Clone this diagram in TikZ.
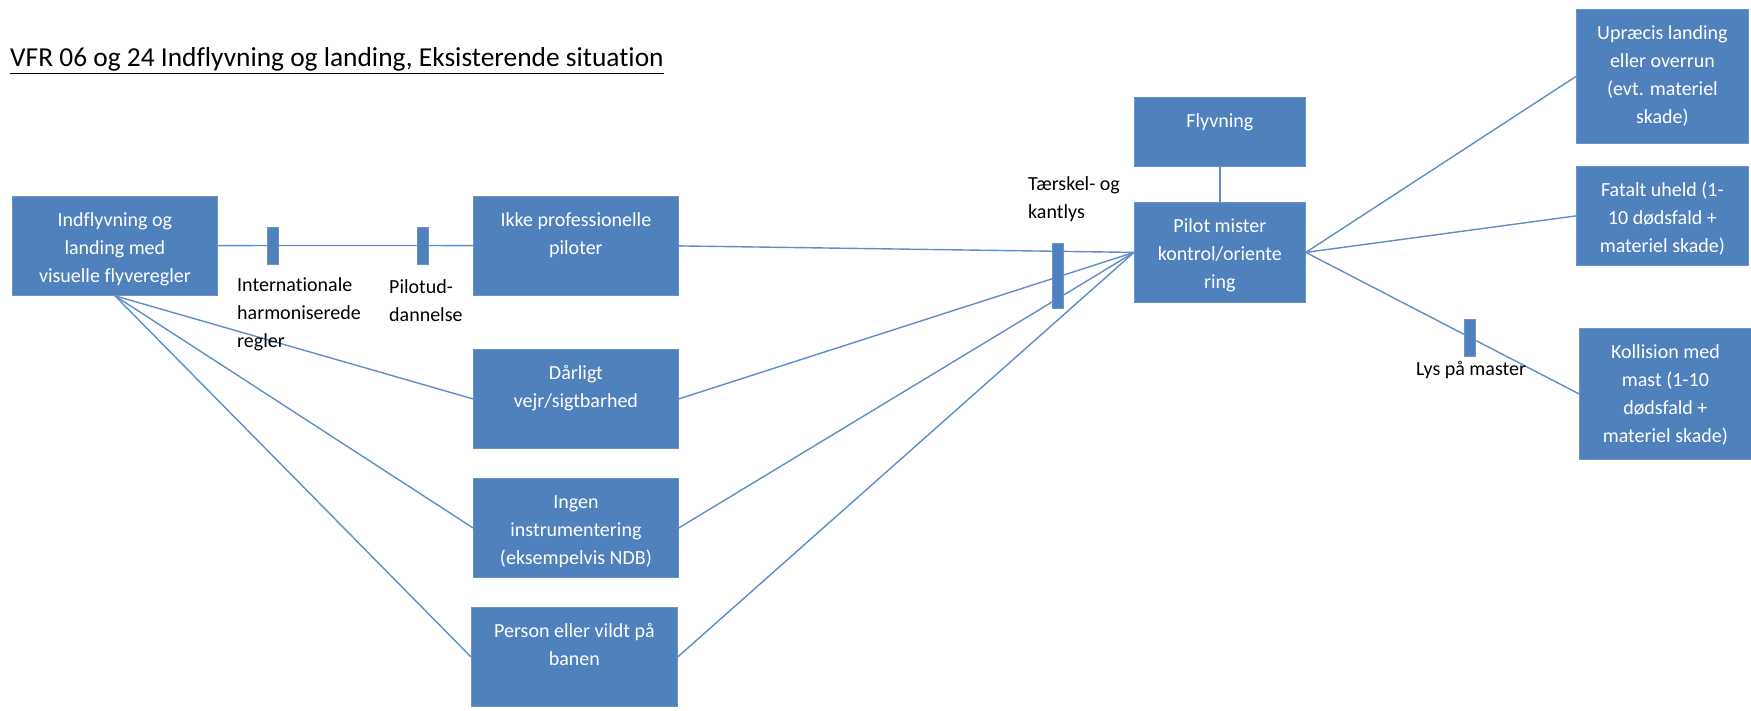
\documentclass[tikz,border=0pt]{standalone}
\usepackage{fontspec}
\setmainfont{Carlito}[Ligatures=NoCommon]
\definecolor{boxblue}{HTML}{4F81BD}
\definecolor{boxedge}{HTML}{6A94C9}
\definecolor{linjeblaa}{HTML}{5F8DC8}
\pgfdeclarelayer{bg}
\pgfsetlayers{bg,main}
\newcommand{\bokstekst}[3]{\parbox[t][#1][t]{#2}{\centering\rule{0pt}{30pt}#3}}

\begin{document}
\begin{tikzpicture}[x=1pt,y=-1pt,
	blok/.style={fill=boxblue, draw=boxedge, line width=0.8pt, inner sep=0pt, anchor=north west, text=white, font=\fontsize{20}{28}\selectfont},
	barre/.style={fill=boxblue, draw=boxedge, line width=0.6pt, inner sep=0pt, minimum width=11pt, minimum height=37pt},
	forb/.style={draw=linjeblaa, line width=1.4pt},
	lbl/.style={font=\fontsize{20}{28}\selectfont, inner sep=0pt, align=left, anchor=west}]
	\useasboundingbox (0,0) rectangle (1751,711);
	\node[anchor=base west, inner sep=0pt, font=\fontsize{27.4}{30}\selectfont] (titel) at (10,67) {\underline{VFR 06 og 24 Indflyvning og landing, Eksisterende situation}};
	% kasser til venstre
	\node[blok] (ind) at (12,196) {\bokstekst{99pt}{205pt}{Indflyvning og\\landing med\\visuelle flyveregler}};
	\node[blok] (ikke) at (473,196) {\bokstekst{99pt}{205pt}{Ikke professionelle\\piloter}};
	\node[blok] (daar) at (473,349) {\bokstekst{99pt}{205pt}{Dårligt\\vejr/sigtbarhed}};
	\node[blok] (ingen) at (473,478) {\bokstekst{99pt}{205pt}{Ingen\\instrumentering\\(eksempelvis NDB)}};
	\node[blok] (person) at (471,607) {\bokstekst{99pt}{206pt}{Person eller vildt på\\banen}};
	% midten
	\node[blok] (flyv) at (1134,97) {\bokstekst{69pt}{171pt}{Flyvning}};
	\node[blok] (pilot) at (1134,202) {\bokstekst{100pt}{171pt}{Pilot mister\\kontrol/oriente\\ring}};
	% konsekvenser
	\node[blok] (upr) at (1576,9) {\bokstekst{134pt}{172pt}{Upræcis landing\\eller overrun\\(evt. materiel\\skade)}};
	\node[blok] (fatalt) at (1576,166) {\bokstekst{99pt}{172pt}{Fatalt uheld (1-\\10 dødsfald +\\materiel skade)}};
	\node[blok] (koll) at (1579,328) {\bokstekst{131pt}{172pt}{Kollision med\\mast (1-10\\dødsfald +\\materiel skade)}};
	% barrierer
	\node[barre] (b1) at (273,245.5) {};
	\node[barre] (b2) at (422.5,245.5) {};
	\node[barre, minimum height=65pt] (b3) at (1057.5,275.5) {};
	\node[barre] (b4) at (1470,337.5) {};
	\node[lbl] (b1tekst) at (237,314) {Internationale\\harmoniserede\\regler};
	\node[lbl] (b2tekst) at (389,301) {Pilotud-\\dannelse};
	\node[lbl] (b3tekst) at (1028,199) {Tærskel- og\\kantlys};
	\node[lbl, anchor=center] (b4tekst) at (1471,370) {Lys på master};
	% forbindelser
	\begin{pgfonlayer}{bg}
		\draw[forb] (ind) -- (b1) -- (b2) -- (ikke);
		\draw[forb] (ind.south) -- (daar.west);
		\draw[forb] (ind.south) -- (ingen.west);
		\draw[forb] (ind.south) -- (person.west);
		\draw[forb] (ikke.east) -- (pilot.west);
		\draw[forb] (daar.east) -- (pilot.west);
		\draw[forb] (ingen.east) -- (pilot.west);
		\draw[forb] (person.east) -- (pilot.west);
		\draw[forb] (flyv) -- (pilot);
		\draw[forb] (pilot.east) -- (upr.west);
		\draw[forb] (pilot.east) -- (fatalt.west);
		\draw[forb] (pilot.east) -- (koll.west);
	\end{pgfonlayer}
\end{tikzpicture}
\end{document}
